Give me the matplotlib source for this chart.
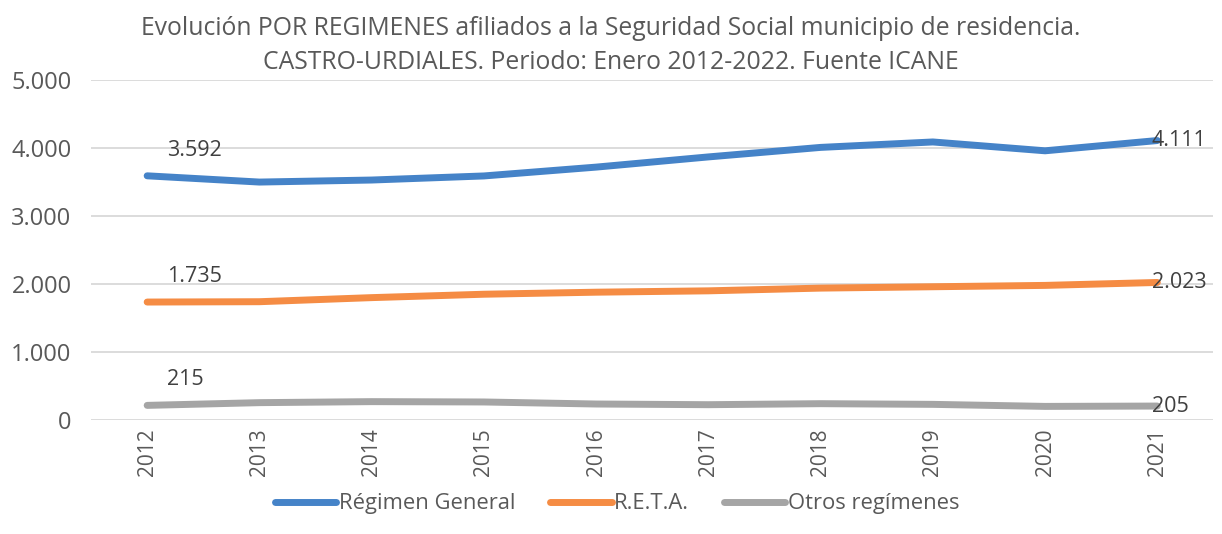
import matplotlib
matplotlib.use('Agg')
import matplotlib.pyplot as plt

years = ['2012', '2013', '2014', '2015', '2016', '2017', '2018', '2019', '2020', '2021']
general = [3592, 3500, 3530, 3590, 3720, 3870, 4010, 4090, 3960, 4111]
reta = [1735, 1740, 1800, 1850, 1880, 1900, 1940, 1960, 1980, 2023]
otros = [215, 255, 270, 265, 235, 225, 240, 230, 200, 205]
series_names = ['Régimen General', 'R.E.T.A.', 'Otros regímenes']
colors = ['#4583c8', '#f58c44', '#a5a5a5']

plt.rcParams['font.family'] = ['Open Sans', 'DejaVu Sans']
text_color = '#595959'

fig = plt.figure(figsize=(12.22, 5.34), dpi=100)
ax = fig.add_axes([0.0745, 0.2135, 0.9185, 0.6365])

x = list(range(len(years)))
for vals, name, c in zip([general, reta, otros], series_names, colors):
    ax.plot(x, vals, color=c, lw=5, label=name, solid_capstyle='round')
    ax.annotate(f'{vals[0]:,}'.replace(',', '.'), (x[0], vals[0]), xytext=(14, 11),
                textcoords='offset points', fontsize=15.5, color='#404040', va='bottom', ha='left')
    ax.annotate(f'{vals[-1]:,}'.replace(',', '.'), (x[-1], vals[-1]), xytext=(-4, 0),
                textcoords='offset points', fontsize=15.5, color='#404040', va='center', ha='left')

ax.set_xlim(-0.5, len(years) - 0.5)
ax.set_ylim(0, 5000)
ax.set_yticks(range(0, 5001, 1000))
ax.set_yticklabels(['0', '1.000', '2.000', '3.000', '4.000', '5.000'])
ax.set_xticks(x)
ax.set_xticklabels(years, rotation=90)
ax.tick_params(axis='x', length=0, labelsize=15, labelcolor=text_color, pad=6)
ax.tick_params(axis='y', length=0, labelsize=17, labelcolor=text_color, pad=14)
ax.grid(axis='y', color='#d9d9d9', lw=1.3)
ax.set_axisbelow(True)
for s in ax.spines.values():
    s.set_visible(False)

fig.suptitle('Evolución POR REGIMENES afiliados a la Seguridad Social municipio de residencia.\n'
             'CASTRO-URDIALES. Periodo: Enero 2012-2022. Fuente ICANE',
             x=0.5, y=0.97, fontsize=17.8, color=text_color, linespacing=1.45)

fig.legend(loc='lower center', bbox_to_anchor=(0.505, 0.0), ncol=3, frameon=False,
           fontsize=15.8, handlelength=2.8, handletextpad=0.1, columnspacing=1.6,
           labelcolor=text_color)

fig.savefig('out.png', dpi=100)
